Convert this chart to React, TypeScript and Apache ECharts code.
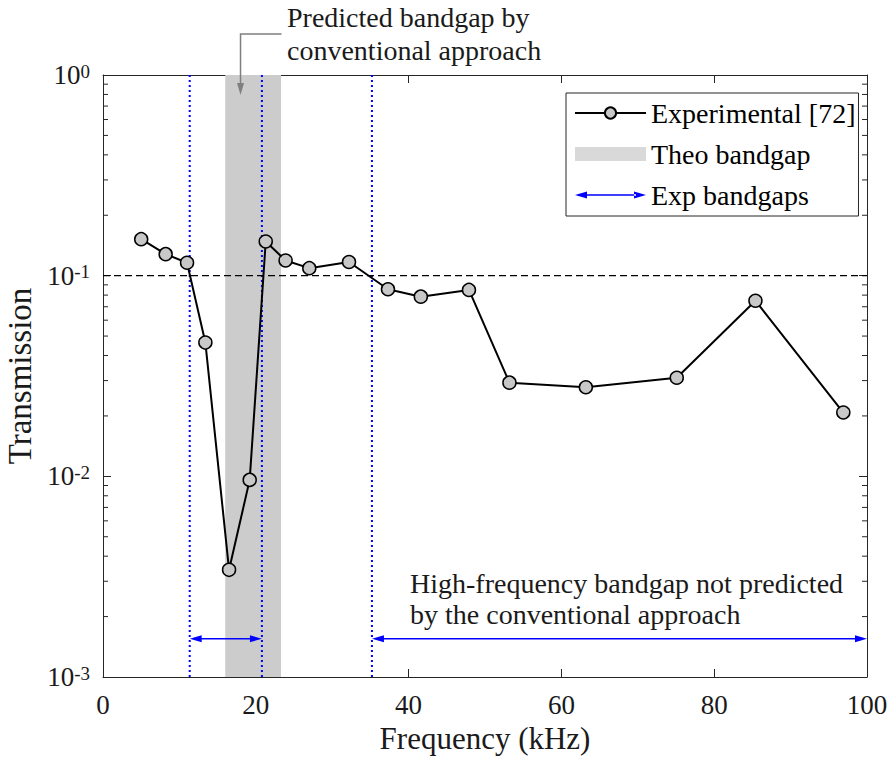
import React, { useEffect, useRef } from 'react';
import * as echarts from 'echarts';

const FONT = "'Liberation Serif', 'Times New Roman', Times, serif";
const TEXT = '#1a1a1a';
const AXIS = '#262626';

// Experimental data (frequency in kHz, transmission)
const frequencies = [5.0, 8.2, 11.0, 13.4, 16.5, 19.2, 21.3, 23.9, 27.0, 32.2, 37.3, 41.6, 47.9, 53.2, 63.2, 75.1, 85.4, 96.9];
const transmission = [0.152, 0.128, 0.116, 0.0464, 0.00342, 0.0096, 0.148, 0.119, 0.109, 0.117, 0.0856, 0.0786, 0.0849, 0.0293, 0.0278, 0.031, 0.075, 0.0208];

// Theoretical bandgap (kHz)
const theoBand = [16.0, 23.3];
// Experimental bandgaps (kHz) and their edges
const expBandgaps = [[11.35, 20.8], [35.2, 100]];
const expEdges = [11.35, 20.8, 35.2];
const arrowLevel = 0.00155;
const threshold = 0.1;
const annotationFreq = 18;

const xMin = 0;
const xMax = 100;
const xInterval = 20;
const yMin = 0.001;
const yMax = 1;
const decades = [-3, -2, -1];
const minorMultipliers = [2, 3, 4, 5, 6, 7, 8, 9];

const annotationTop = 'Predicted bandgap by\nconventional approach';
const annotationBottom = 'High-frequency bandgap not predicted\nby the conventional approach';

const expIcon =
  'path://M35,0 L35.02,0 L35,0.02 Z M35,14 L35.02,14 L35,13.98 Z ' +
  'M0,7 L12,3.5 L12,10.5 Z M71,7 L59,3.5 L59,10.5 Z M10,6.3 L61,6.3 L61,7.7 L10,7.7 Z';

export default function App() {
  const ref = useRef<HTMLDivElement>(null);

  useEffect(() => {
    document.body.style.margin = '0';
    const chart = echarts.init(ref.current as HTMLDivElement, null, { renderer: 'svg' });

    const minorValues: number[][] = [];
    decades.forEach((d) => {
      minorMultipliers.forEach((m) => minorValues.push([m * Math.pow(10, d)]));
    });

    const axisLine = { show: true, onZero: false, lineStyle: { color: AXIS, width: 1 } };
    const axisTick = { show: true, inside: true, length: 8, lineStyle: { color: AXIS, width: 1 } };

    const option: any = {
      animation: false,
      backgroundColor: '#ffffff',
      grid: { left: 103, top: 75, width: 764, height: 602, containLabel: false, outerBoundsMode: 'none' },
      xAxis: [
        {
          type: 'value',
          min: xMin,
          max: xMax,
          interval: xInterval,
          position: 'bottom',
          axisLine,
          axisTick,
          splitLine: { show: false },
          axisLabel: { fontSize: 27, fontFamily: FONT, color: TEXT, margin: 14 },
          name: 'Frequency (kHz)',
          nameLocation: 'middle',
          nameGap: 46,
          nameTextStyle: { fontSize: 31, fontFamily: FONT, color: TEXT },
        },
        {
          type: 'value',
          min: xMin,
          max: xMax,
          interval: xInterval,
          position: 'top',
          axisLine,
          axisTick,
          splitLine: { show: false },
          axisLabel: { show: false },
        },
      ],
      yAxis: [
        {
          type: 'log',
          logBase: 10,
          min: yMin,
          max: yMax,
          position: 'left',
          axisLine,
          axisTick,
          splitLine: { show: false },
          minorTick: { show: false },
          axisLabel: {
            margin: 13,
            formatter: (v: number) => {
              const e = Math.round(Math.log10(v));
              return '{b|10}{s|' + e + '}';
            },
            rich: {
              b: { fontSize: 27, fontFamily: FONT, color: TEXT, lineHeight: 27, padding: [6, 0, 0, 0], verticalAlign: 'bottom' },
              s: { fontSize: 19, fontFamily: FONT, color: TEXT, lineHeight: 19, verticalAlign: 'top' },
            },
          },
          name: 'Transmission',
          nameLocation: 'middle',
          nameGap: 59,
          nameTextStyle: { fontSize: 33, fontFamily: FONT, color: TEXT },
        },
        {
          type: 'log',
          logBase: 10,
          min: yMin,
          max: yMax,
          position: 'right',
          axisLine,
          axisTick,
          splitLine: { show: false },
          axisLabel: { show: false },
        },
      ],
      legend: {
        orient: 'vertical',
        left: 566,
        top: 93,
        padding: [6, 3, 7, 8],
        itemWidth: 71,
        itemHeight: 14,
        itemGap: 13,
        borderColor: AXIS,
        borderWidth: 1,
        backgroundColor: '#ffffff',
        textStyle: { fontSize: 28, fontFamily: FONT, color: '#000000' },
        data: [
          { name: 'Experimental [72]' },
          { name: 'Theo bandgap', icon: 'rect', itemStyle: { color: '#d9d9d9' } },
          { name: 'Exp bandgaps', icon: expIcon, itemStyle: { color: '#0000ff' } },
        ],
      },
      graphic: [
        {
          type: 'text',
          left: 287,
          top: 1,
          style: { text: annotationTop, font: '28px ' + FONT, fill: TEXT, lineHeight: 33 },
        },
        {
          type: 'text',
          left: 410,
          top: 568,
          style: { text: annotationBottom, font: '28px ' + FONT, fill: TEXT, lineHeight: 31 },
        },
      ],
      series: [
        {
          name: 'Theo bandgap',
          type: 'custom',
          z: 1,
          itemStyle: { color: '#cccccc' },
          encode: { x: [0, 1] },
          data: [theoBand],
          renderItem: (params: any, api: any) => {
            const p1 = api.coord([api.value(0), yMax]);
            const p2 = api.coord([api.value(1), yMin]);
            return {
              type: 'rect',
              shape: { x: p1[0], y: p1[1], width: p2[0] - p1[0], height: p2[1] - p1[1] },
              style: { fill: '#cccccc' },
            };
          },
        },
        {
          name: '_edges',
          type: 'custom',
          z: 2,
          silent: true,
          encode: { x: 0 },
          data: expEdges.map((e) => [e]),
          renderItem: (params: any, api: any) => {
            const p1 = api.coord([api.value(0), yMax]);
            const p2 = api.coord([api.value(0), yMin]);
            return {
              type: 'line',
              shape: { x1: p1[0], y1: p1[1], x2: p2[0], y2: p2[1] },
              style: { stroke: '#0000ff', lineWidth: 2, lineDash: [2, 3] },
            };
          },
        },
        {
          name: '_threshold',
          type: 'custom',
          z: 3,
          silent: true,
          encode: { y: 0 },
          data: [[threshold]],
          renderItem: (params: any, api: any) => {
            const p1 = api.coord([xMin, api.value(0)]);
            const p2 = api.coord([xMax, api.value(0)]);
            return {
              type: 'line',
              shape: { x1: p1[0], y1: p1[1], x2: p2[0], y2: p2[1] },
              style: { stroke: '#000000', lineWidth: 1.2, lineDash: [7, 4] },
            };
          },
        },
        {
          name: '_minorTicks',
          type: 'custom',
          z: 3,
          silent: true,
          encode: { y: 0 },
          data: minorValues,
          renderItem: (params: any, api: any) => {
            const l = api.coord([xMin, api.value(0)]);
            const r = api.coord([xMax, api.value(0)]);
            return {
              type: 'group',
              children: [
                { type: 'line', shape: { x1: l[0], y1: l[1], x2: l[0] + 5, y2: l[1] }, style: { stroke: AXIS, lineWidth: 1 } },
                { type: 'line', shape: { x1: r[0], y1: r[1], x2: r[0] - 5, y2: r[1] }, style: { stroke: AXIS, lineWidth: 1 } },
              ],
            };
          },
        },
        {
          name: 'Exp bandgaps',
          type: 'custom',
          z: 4,
          itemStyle: { color: '#0000ff' },
          encode: { x: [0, 1], y: 2 },
          data: expBandgaps.map((b) => [b[0], b[1], arrowLevel]),
          renderItem: (params: any, api: any) => {
            const a = api.coord([api.value(0), api.value(2)]);
            const b = api.coord([api.value(1), api.value(2)]);
            const L = 12;
            const W = 3.5;
            return {
              type: 'group',
              children: [
                { type: 'line', shape: { x1: a[0] + 6, y1: a[1], x2: b[0] - 6, y2: b[1] }, style: { stroke: '#0000ff', lineWidth: 1.5 } },
                { type: 'polygon', shape: { points: [[a[0], a[1]], [a[0] + L, a[1] - W], [a[0] + L, a[1] + W]] }, style: { fill: '#0000ff' } },
                { type: 'polygon', shape: { points: [[b[0], b[1]], [b[0] - L, b[1] - W], [b[0] - L, b[1] + W]] }, style: { fill: '#0000ff' } },
              ],
            };
          },
        },
        {
          name: '_annotationArrow',
          type: 'custom',
          z: 5,
          silent: true,
          clip: false,
          encode: { x: 0, y: 1 },
          data: [[annotationFreq, yMax]],
          renderItem: (params: any, api: any) => {
            const p = api.coord([api.value(0), api.value(1)]);
            const x = p[0];
            const top = p[1] - 41;
            const tipY = p[1] + 20;
            return {
              type: 'group',
              children: [
                { type: 'polyline', shape: { points: [[x + 41, top], [x, top], [x, tipY - 10]] }, style: { stroke: '#7f7f7f', lineWidth: 1.5, fill: null } },
                { type: 'polygon', shape: { points: [[x, tipY], [x - 3.5, tipY - 12], [x + 3.5, tipY - 12]] }, style: { fill: '#7f7f7f' } },
              ],
            };
          },
        },
        {
          name: 'Experimental [72]',
          type: 'line',
          z: 10,
          data: frequencies.map((f, i) => [f, transmission[i]]),
          symbol: 'circle',
          symbolSize: 13,
          itemStyle: { color: '#c8c8c8', borderColor: '#000000', borderWidth: 1.5 },
          lineStyle: { color: '#000000', width: 2 },
        },
      ],
    };

    chart.setOption(option);
    return () => chart.dispose();
  }, []);

  return <div ref={ref} style={{ width: 890, height: 760 }} />;
}
